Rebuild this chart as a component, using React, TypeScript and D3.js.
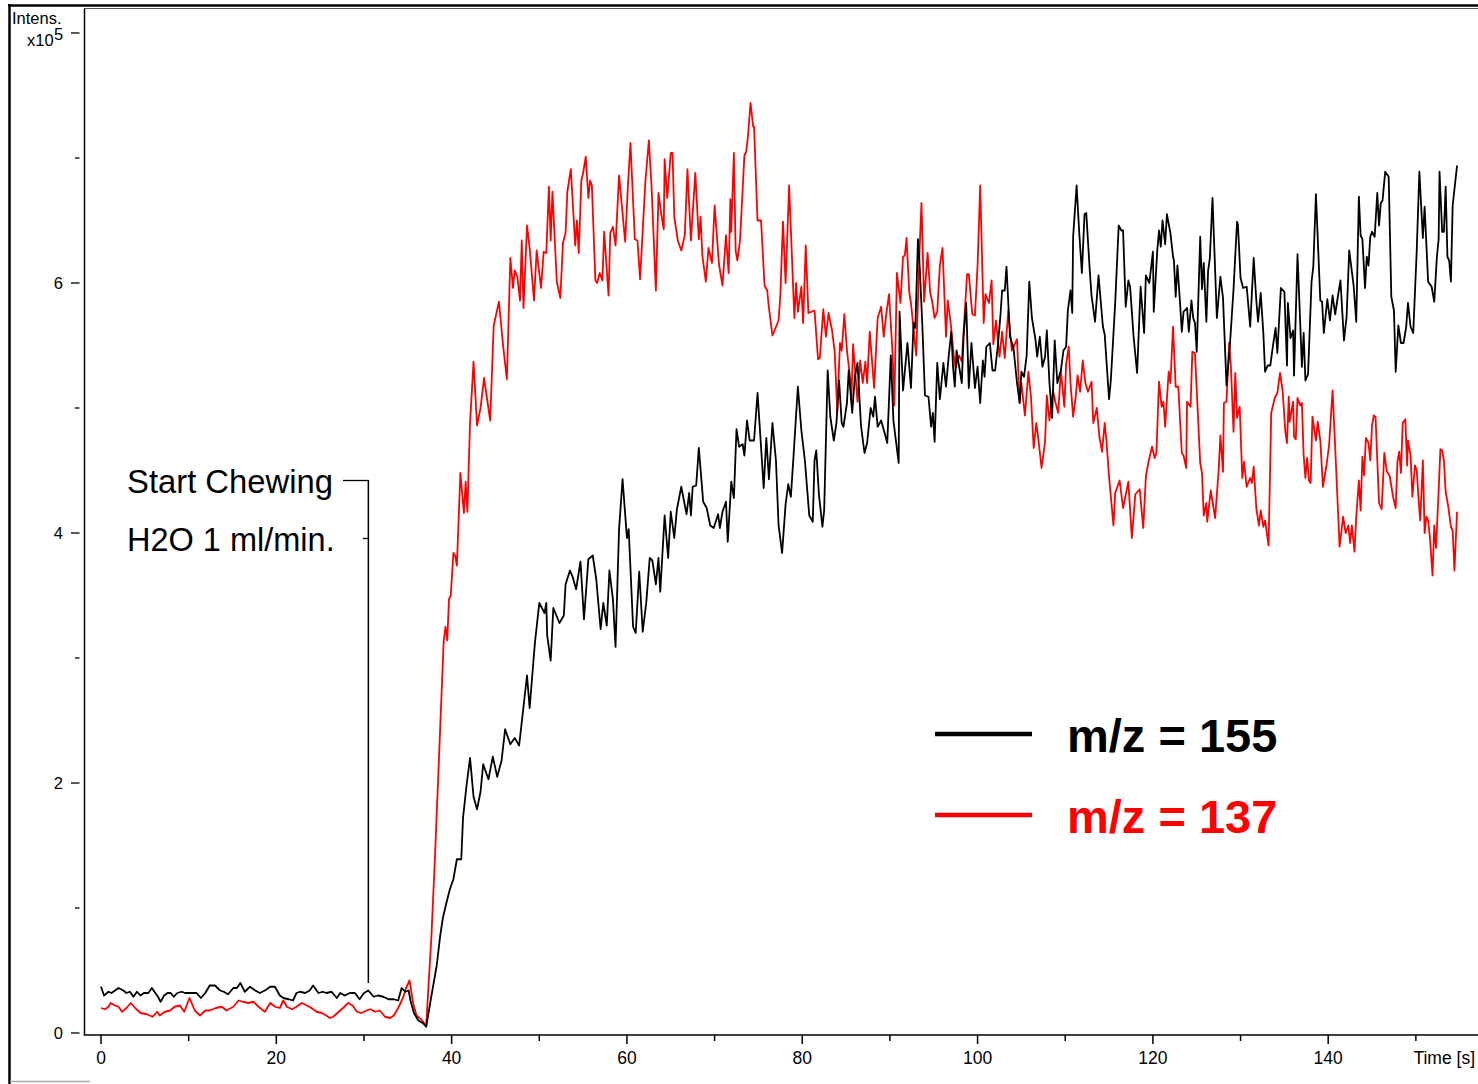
import React from 'react';
import { scaleLinear, line, range } from 'd3';

// m/z = 155 trace, [time s, intensity x10^5]
const mz155: [number, number][] = [
  [0,0.37],[0.35,0.3],[0.85,0.33],[1.2,0.32],[1.6,0.34],[2,0.36],[2.55,0.34],[2.9,0.32],[3.3,0.33],[3.7,0.29],[4.1,0.33],[4.5,0.3],[4.9,0.32],[5.4,0.32],[5.8,0.36],[6.2,0.32],[6.5,0.29],[6.8,0.25],[7.2,0.3],[7.6,0.32],[7.95,0.32],[8.3,0.29],[8.7,0.32],[9.2,0.33],[9.6,0.32],[10.2,0.32],[10.9,0.32],[11.4,0.28],[11.9,0.32],[12.4,0.38],[13,0.38],[13.6,0.34],[14,0.33],[14.5,0.31],[15.1,0.36],[15.5,0.36],[15.9,0.4],[16.4,0.33],[17,0.37],[17.6,0.34],[18.1,0.32],[18.7,0.34],[19.3,0.37],[19.85,0.37],[20.4,0.3],[20.8,0.28],[21.4,0.27],[21.9,0.26],[22.3,0.32],[22.7,0.33],[23.3,0.32],[23.8,0.34],[24.2,0.38],[24.8,0.32],[25.3,0.33],[25.7,0.32],[26.3,0.33],[26.9,0.28],[27.3,0.32],[27.8,0.3],[28.4,0.32],[28.97,0.32],[29.5,0.27],[30,0.32],[30.5,0.34],[31.1,0.29],[31.6,0.3],[32.2,0.29],[32.8,0.27],[33.4,0.27],[33.9,0.26],[34.3,0.36],[34.7,0.33],[35.1,0.34],[35.3,0.26],[35.7,0.16],[36.2,0.1],[36.7,0.08],[37.1,0.05],
  [37.7,0.3],[38.3,0.54],[38.7,0.78],[39,0.92],[39.4,1.04],[39.8,1.15],[40.2,1.23],[40.6,1.39],[41.1,1.39],[41.3,1.72],[41.7,1.98],[42.1,2.2],[42.5,1.89],[42.9,1.79],[43.3,1.93],[43.6,2.15],[44.2,2.03],[44.7,2.21],[45.2,2.05],[45.7,2.18],[46.1,2.43],[46.7,2.31],[47.2,2.36],[47.7,2.3],[48.6,2.86],[48.9,2.6],[49.5,3.12],[50,3.44],[50.6,3.36],[50.8,3.44],[50.9,3.18],[51.3,2.98],[51.6,3.4],[52.3,3.28],[52.8,3.34],[53,3.59],[53.5,3.7],[53.8,3.65],[54.2,3.55],[54.7,3.77],[55.1,3.31],[55.6,3.79],[56.1,3.82],[56.5,3.63],[57,3.23],[57.3,3.44],[57.7,3.26],[58,3.7],[58.4,3.47],[58.7,3.09],[59.1,4.03],[59.5,4.43],[60,3.96],[60.2,4.03],[60.7,3.25],[61,3.2],[61.4,3.69],[61.8,3.21],[62.2,3.44],[62.6,3.8],[62.9,3.78],[63.3,3.59],[63.6,3.8],[63.8,3.53],[64.3,4.14],[64.7,3.8],[65,4.17],[65.4,3.96],[65.7,4.19],[66.2,4.37],[66.8,4.15],[67.1,4.32],[67.3,4.14],[67.5,4.37],[67.9,4.38],[68.2,4.68],[68.7,4.25],[69.1,4.2],[69.5,4.06],[69.9,4.04],[70.4,4.15],[70.6,4.04],[70.9,4.17],[71.3,4.25],[71.5,3.93],[71.9,4.41],[72.2,4.28],[72.5,4.83],[72.8,4.69],[73.2,4.71],[73.4,4.62],[73.7,4.9],[74,4.74],[74.5,4.74],[74.9,5.12],[75.6,4.36],[75.9,4.76],[76.2,4.43],[76.6,4.88],[77,4.58],[77.3,4.06],[77.7,3.84],[78.1,4.23],[78.4,4.39],[78.7,4.29],[79,4.61],[79.5,5.17],[79.9,4.82],[80.3,4.58],[80.8,4.14],[81.2,4.09],[81.4,4.58],[81.6,4.66],[81.9,4.31],[82.3,4.05],[82.5,4.18],[82.9,5.3],[83.2,4.93],[83.6,4.74],[83.9,4.88],[84.2,5.22],[84.5,4.88],[84.7,4.85],[85.1,5.04],[85.3,5.3],[85.7,4.96],[86,5.25],[86.3,5.36],[86.7,4.86],[87.1,4.64],[87.4,4.72],[87.8,5.0],[88.1,4.93],[88.3,5.09],[88.6,4.85],[89,4.9],[89.4,4.8],[89.7,4.72],[90.1,5.42],[90.4,4.9],[90.7,4.73],[91,4.56],[91.1,5.77],[91.5,5.14],[92,5.52],[92.4,5.16],[92.7,5.68],[92.9,5.64],[93.2,6.35],[93.4,6.13],[93.7,5.66],[94,5.1],[94.4,5.09],[94.7,4.85],[94.9,4.96],[95.1,4.73],[95.4,5.36],[95.7,5.07],[96.1,5.36],[96.4,5.17],[96.7,5.41],[97,5.61],[97.2,5.33],[97.4,5.17],[97.6,5.46],[97.9,5.33],[98.2,5.2],[98.4,5.57],[98.7,5.84],[99,5.16],[99.3,5.52],[99.7,5.16],[100,5.33],[100.3,5.04],[100.6,5.38],[100.8,5.25],[101,5.49],[101.4,5.52],[101.7,5.3],[102,5.3],[102.3,5.49],[102.6,5.73],[102.8,5.94],[103.1,5.94],[103.3,6.13],[103.7,5.57],[104.1,5.48],[104.5,5.2],[104.8,5.04],[105,5.29],[105.3,5.25],[105.6,5.42],[105.9,6.01],[106.2,5.72],[106.6,5.55],[106.8,5.41],[107.1,5.57],[107.4,5.33],[107.7,5.41],[107.9,5.62],[108.2,5.2],[108.5,4.92],[108.8,5.54],[109.1,5.2],[109.5,5.3],[109.8,5.46],[110.1,5.49],[110.3,5.78],[110.6,5.94],[110.8,5.76],[110.9,6.37],[111.3,6.78],[111.6,6.4],[111.9,6.08],[112.2,6.55],[112.4,6.56],[112.8,6.1],[113,5.9],[113.4,5.69],[113.8,6.06],[114.3,5.65],[114.5,5.59],[115,5.07],[115.2,5.22],[115.7,5.84],[116.1,6.46],[116.4,6.42],[116.6,6.42],[116.9,5.81],[117.2,6.02],[117.4,5.97],[117.8,5.57],[118.2,5.28],[118.6,5.97],[119,5.6],[119.2,6.06],[119.6,6.0],[120,6.25],[120.1,5.77],[120.5,6.26],[120.7,6.42],[120.9,6.29],[121.1,6.5],[121.4,6.31],[121.6,6.55],[122,6.4],[122.3,6.21],[122.4,6.18],[122.6,5.89],[122.8,6.14],[123.1,5.84],[123.3,5.61],[123.5,5.77],[123.9,5.8],[124.1,5.61],[124.4,5.86],[124.6,5.72],[124.8,5.68],[125,5.45],[125.4,6.37],[125.6,5.95],[125.8,6.16],[126.1,5.69],[126.3,6.1],[126.5,6.2],[126.8,6.68],[127.3,5.72],[127.7,6.05],[128,5.88],[128.4,5.18],[128.8,5.52],[129.2,5.95],[129.6,6.49],[129.7,6.47],[130,6.04],[130.3,5.96],[130.7,5.97],[131.1,5.65],[131.5,6.2],[131.8,5.86],[132,5.69],[132.3,5.92],[132.6,5.6],[132.8,5.29],[133.1,5.34],[133.4,5.34],[133.7,5.5],[134,5.64],[134.2,5.44],[134.6,5.96],[135,5.93],[135.3,5.34],[135.4,5.84],[135.7,5.56],[136,5.62],[136.1,5.26],[136.5,6.23],[137,5.33],[137.2,5.6],[137.4,5.22],[137.7,5.27],[138.1,6.01],[138.3,6.13],[138.6,6.71],[139.1,5.86],[139.3,5.85],[139.5,5.6],[139.9,5.87],[140.2,5.7],[140.5,5.9],[140.8,5.75],[141.1,5.89],[141.4,6.02],[141.8,5.54],[142.1,5.73],[142.4,6.26],[142.9,5.98],[143.2,5.69],[143.5,6.69],[143.7,6.38],[143.9,6.35],[144.2,5.96],[144.4,6.21],[144.6,6.14],[144.8,6.37],[145,6.41],[145.3,6.37],[145.6,6.72],[145.8,6.46],[146,6.64],[146.2,6.66],[146.5,6.89],[146.9,6.85],[147.2,5.89],[147.5,5.78],[147.7,5.29],[148,5.66],[148.3,5.52],[148.6,5.52],[148.9,5.65],[149.1,5.84],[149.4,5.65],[149.7,5.6],[150.1,6.26],[150.4,6.89],[150.8,6.36],[151,6.61],[151.4,6.01],[151.8,5.97],[152.1,5.85],[152.4,6.21],[152.6,6.35],[152.7,6.89],[153,6.41],[153.2,6.41],[153.4,6.77],[153.6,6.21],[153.8,6.18],[154,6.01],[154.2,6.62],[154.7,6.94],
];

// m/z = 137 trace, [time s, intensity x10^5]
const mz137: [number, number][] = [
  [0,0.2],[0.45,0.19],[0.85,0.21],[1.1,0.24],[1.6,0.22],[2,0.21],[2.4,0.17],[2.9,0.2],[3.4,0.24],[3.9,0.2],[4.5,0.16],[5.2,0.15],[5.9,0.13],[6.4,0.17],[6.7,0.14],[7.3,0.17],[7.9,0.18],[8.4,0.21],[9,0.22],[9.5,0.17],[10.1,0.28],[10.7,0.18],[11.3,0.14],[11.9,0.18],[12.4,0.18],[13.1,0.2],[13.8,0.21],[14.3,0.18],[15.1,0.21],[15.7,0.26],[16.2,0.25],[16.8,0.24],[17.4,0.25],[17.96,0.21],[18.7,0.17],[19.3,0.24],[19.85,0.21],[20.4,0.2],[20.8,0.26],[21.2,0.21],[21.8,0.19],[22.3,0.21],[22.9,0.24],[23.5,0.22],[24,0.2],[24.6,0.17],[25.2,0.16],[25.7,0.14],[26.1,0.12],[26.5,0.13],[26.97,0.16],[27.6,0.2],[28.2,0.24],[28.7,0.22],[29.2,0.17],[29.7,0.16],[30.3,0.18],[30.7,0.19],[31.3,0.17],[31.8,0.18],[32.4,0.13],[33,0.12],[33.4,0.14],[33.9,0.2],[34.5,0.29],[34.8,0.36],[35.2,0.42],[35.6,0.24],[36,0.14],[36.5,0.11],[37.1,0.06],
  [37.7,0.78],[38.1,1.41],[38.5,2.1],[38.9,2.8],[39.1,3.14],[39.3,3.25],[39.5,3.14],[39.7,3.47],[39.9,3.5],[40.2,3.84],[40.4,3.82],[40.6,3.74],[41,4.48],[41.4,4.16],[41.6,4.41],[41.8,4.17],[42.1,4.88],[42.5,5.37],[42.9,4.86],[43.3,5.0],[43.7,5.24],[44.4,4.9],[44.8,5.66],[45.4,5.85],[45.9,5.48],[46.3,5.23],[46.7,6.2],[47,5.96],[47.2,6.1],[47.5,6.05],[47.8,5.86],[48,6.34],[48.2,5.8],[48.6,6.46],[48.9,6.28],[49.4,5.86],[49.7,6.26],[50.2,5.96],[50.5,6.25],[50.8,6.24],[51.1,6.77],[51.3,6.34],[51.5,6.73],[52,6.01],[52.4,5.88],[52.7,6.32],[53,6.4],[53.2,6.73],[53.6,6.91],[54.1,6.3],[54.3,6.5],[54.5,6.24],[54.8,6.82],[55,6.88],[55.3,7.01],[55.6,6.68],[55.8,6.82],[56,6.78],[56.4,6.02],[56.6,6.0],[56.9,6.08],[57.2,6.02],[57.4,6.41],[57.9,5.9],[58.1,6.4],[58.4,6.45],[58.7,6.3],[59.1,6.86],[59.8,6.33],[60.1,6.76],[60.4,7.12],[60.9,6.35],[61.2,6.34],[61.5,6.03],[62.1,6.81],[62.5,7.14],[62.8,6.78],[63.3,5.94],[63.6,6.72],[63.9,6.56],[64.2,6.43],[64.3,6.99],[64.6,6.68],[65,7.04],[65.2,7.04],[65.4,6.53],[65.8,6.34],[66.2,6.26],[66.6,6.38],[66.9,6.91],[67.3,6.34],[67.8,6.88],[68.2,6.35],[68.4,6.53],[68.6,6.22],[69,6.01],[69.3,6.28],[69.7,6.16],[70,6.62],[70.5,6.15],[70.9,5.98],[71.3,6.38],[71.6,6.08],[71.8,6.67],[71.9,6.41],[72.2,7.04],[72.4,6.26],[72.6,6.18],[72.9,6.34],[73.4,7.02],[73.6,7.05],[73.8,7.17],[74.1,7.44],[74.4,7.25],[74.5,7.25],[74.9,6.5],[75.3,6.5],[75.7,5.98],[76,5.94],[76.2,5.8],[76.6,5.58],[77.3,5.7],[77.5,5.9],[77.8,6.49],[78.1,6.0],[78.5,6.78],[79.1,5.72],[79.3,6.0],[79.5,5.77],[79.9,5.97],[80.1,5.68],[80.4,6.3],[80.7,5.76],[81.4,5.78],[81.8,5.39],[82,5.4],[82.4,5.79],[82.7,5.57],[83,5.76],[83.4,5.62],[83.7,5.45],[84,4.97],[84.3,5.52],[84.5,5.46],[84.8,5.75],[85.1,5.46],[85.5,5.22],[85.6,5.05],[85.8,5.51],[86.3,5.05],[86.6,5.38],[86.9,5.2],[87.2,5.37],[87.4,5.2],[87.7,5.61],[88.2,5.16],[88.6,5.72],[89,5.81],[89.3,5.57],[89.6,5.76],[89.9,5.91],[90.3,5.44],[90.5,5.02],[90.8,6.08],[91.2,5.84],[91.5,6.21],[91.7,6.22],[91.9,6.36],[92.2,5.93],[92.4,5.84],[92.7,5.63],[93,5.42],[93.4,6.3],[93.6,6.64],[93.9,5.85],[94.3,6.24],[94.6,5.92],[94.8,5.86],[95.1,5.72],[95.4,5.77],[95.7,6.14],[96,6.28],[96.4,5.57],[96.6,5.86],[96.9,5.7],[97.3,5.41],[97.5,5.32],[97.9,5.42],[98.2,5.37],[98.4,5.6],[98.8,6.07],[99,6.07],[99.4,5.75],[99.7,5.74],[100,6.14],[100.3,6.78],[100.7,5.68],[100.9,5.91],[101.3,5.84],[101.6,6.02],[101.8,5.51],[102.1,5.7],[102.5,5.41],[102.8,5.61],[103.1,5.4],[103.5,5.78],[103.9,5.46],[104.5,5.55],[104.8,5.04],[105,5.2],[105.4,4.94],[105.8,5.29],[106.1,5.08],[106.4,4.68],[106.7,4.88],[106.9,4.77],[107.3,4.52],[107.7,4.73],[107.9,5.1],[108.2,4.9],[108.6,5.14],[108.9,5.04],[109.2,4.96],[109.5,5.3],[109.9,5.01],[110.1,5.35],[110.4,5.49],[110.6,5.2],[110.9,4.93],[111.2,5.09],[111.4,5.26],[111.7,5.13],[112,5.38],[112.3,5.2],[112.6,5.13],[113,5.21],[113.2,4.88],[113.6,5.0],[113.9,4.77],[114.2,4.65],[114.5,4.88],[114.7,4.74],[115,4.45],[115.5,4.06],[115.7,4.32],[116.2,4.42],[116.6,4.2],[117.2,4.41],[117.6,3.96],[118,4.31],[118.5,4.35],[118.9,4.04],[119.2,4.45],[119.5,4.57],[119.9,4.69],[120.2,4.6],[120.4,4.64],[120.7,5.21],[121,5.01],[121.2,5.05],[121.4,4.85],[121.8,5.29],[122,5.2],[122.3,5.65],[122.6,5.17],[122.9,5.17],[123.3,4.64],[123.5,4.62],[123.8,4.52],[123.9,5.05],[124.3,5.01],[124.5,5.45],[124.8,5.44],[125.4,4.56],[125.6,4.48],[125.8,4.14],[126.1,4.24],[126.2,4.09],[126.6,4.34],[127.1,4.12],[127.5,4.5],[127.7,4.78],[128,4.49],[128.1,5.04],[128.4,5.05],[128.7,5.52],[128.9,5.33],[129.2,4.81],[129.4,5.28],[129.6,4.92],[129.9,5.01],[130.2,4.44],[130.4,4.57],[130.7,4.37],[131.1,4.44],[131.3,4.4],[131.5,4.53],[131.8,4.2],[132.1,4.06],[132.3,4.18],[132.6,4.05],[132.8,4.1],[133.2,3.9],[133.5,4.96],[133.9,5.08],[134.2,5.12],[134.5,5.28],[134.8,5.14],[135.1,4.82],[135.3,4.72],[135.5,5.09],[135.6,4.89],[136,5.05],[136.1,4.77],[136.3,4.75],[136.5,5.08],[136.8,5.02],[137,5.04],[137.2,4.62],[137.4,4.44],[137.6,4.6],[137.8,4.42],[138,4.4],[138.2,4.93],[138.6,4.74],[138.8,4.89],[139.1,4.74],[139.4,4.37],[139.8,4.54],[140.1,4.7],[140.5,5.14],[140.8,4.68],[141.3,3.89],[141.7,4.13],[142,4.0],[142.3,4.06],[142.5,3.92],[142.7,4.06],[143,3.85],[143.2,4.13],[143.5,4.42],[143.7,4.18],[143.9,4.61],[144.1,4.46],[144.3,4.76],[144.6,4.72],[144.8,4.58],[145,4.86],[145.2,4.94],[145.4,4.93],[145.8,4.24],[146.1,4.19],[146.4,4.64],[146.7,4.49],[147,4.46],[147.4,4.29],[147.7,4.2],[147.9,4.57],[148.1,4.65],[148.3,4.48],[148.5,4.88],[148.8,4.91],[149,4.54],[149.1,4.74],[149.4,4.62],[149.6,4.29],[149.9,4.54],[150.1,4.5],[150.3,4.28],[150.5,4.1],[150.8,4.58],[151,4.0],[151.2,4.13],[151.4,4.1],[151.6,3.97],[151.9,3.66],[152.1,4.06],[152.3,3.88],[152.6,4.34],[152.8,4.67],[153,4.66],[153.2,4.58],[153.4,4.33],[153.7,4.21],[154,4.05],[154.2,4.02],[154.4,3.7],[154.7,4.17],
];

const xTickLabels = [0, 20, 40, 60, 80, 100, 120, 140];
const yTickLabels = [0, 2, 4, 6];
const chewStart = 30.5; // s, marker for "Start Chewing"
const legendItems = [
  { label: 'm/z = 155', color: '#000000' },
  { label: 'm/z = 137', color: '#ff0000' },
];

const font = '"Liberation Sans", Arial, sans-serif';

const App = () => {
  const width = 1478;
  const height = 1084;

  // axes placement
  const plotLeft = 84.5;
  const plotTop = 8.5;

  const xScale = scaleLinear().domain([0, 140]).range([101, 1328.2]);
  const yScale = scaleLinear().domain([0, 8]).range([1033, 33]);
  const axisY = yScale(-0.016);

  const path = line<[number, number]>()
    .x(d => xScale(d[0]))
    .y(d => yScale(d[1]));

  const xTicks = range(0, 151, 10);
  const yTicks = range(0, 9, 1);

  return (
    <svg width={width} height={height} style={{ position: 'absolute', left: 0, top: 0, display: 'block' }}
      fontFamily={font}>
      <rect x={0} y={0} width={width} height={height} fill="#ffffff" />

      {/* outer frame */}
      <line x1={9.5} y1={4} x2={9.5} y2={height} stroke="#000" strokeWidth={2.5} />
      <line x1={8} y1={5.5} x2={width} y2={5.5} stroke="#000" strokeWidth={2.5} />
      <line x1={10} y1={1081.5} x2={90} y2={1081.5} stroke="#aaa" strokeWidth={1.5} />

      {/* plot frame */}
      <line x1={plotLeft} y1={plotTop} x2={width} y2={plotTop} stroke="#555" strokeWidth={1} />
      <line x1={plotLeft} y1={plotTop} x2={plotLeft} y2={axisY} stroke="#000" strokeWidth={1.5} />
      <line x1={plotLeft - 0.75} y1={axisY} x2={width} y2={axisY} stroke="#000" strokeWidth={1.5} />

      {/* x axis */}
      {xTicks.map(t => (
        <line key={'xt' + t} x1={xScale(t)} x2={xScale(t)} y1={axisY} y2={axisY + (t % 20 === 0 ? 9 : 6)}
          stroke="#000" strokeWidth={1.5} />
      ))}
      {xTickLabels.map(t => (
        <text key={'xl' + t} x={xScale(t)} y={1064} textAnchor="middle" fontSize={17.5} fill="#000">{t}</text>
      ))}
      <text x={1475} y={1064} textAnchor="end" fontSize={17.5} fill="#000">Time [s]</text>

      {/* y axis */}
      {yTicks.map(v => (
        <line key={'yt' + v} x1={v % 2 === 0 ? 71 : 75} x2={79.5} y1={yScale(v)} y2={yScale(v)}
          stroke="#000" strokeWidth={1.3} />
      ))}
      {yTickLabels.map(v => (
        <text key={'yl' + v} x={63} y={yScale(v) + 6} textAnchor="end" fontSize={16.5} fill="#000">{v}</text>
      ))}
      <text x={12} y={24} fontSize={16.5} fill="#000">Intens.</text>
      <text x={27} y={46} fontSize={16.5} fill="#000">x10</text>
      <text x={54} y={40} fontSize={16.5} fill="#000">5</text>

      {/* traces */}
      <path d={path(mz137) || ''} fill="none" stroke="#ff0000" strokeWidth={1.8} strokeLinejoin="round" />
      <path d={path(mz155) || ''} fill="none" stroke="#000000" strokeWidth={1.8} strokeLinejoin="round" />

      {/* annotation */}
      <text x={127} y={493} fontSize={32.8} fill="#000">Start Chewing</text>
      <text x={127} y={551} fontSize={32.5} fill="#000">H2O 1 ml/min.</text>
      <line x1={343} y1={480.5} x2={xScale(chewStart) + 0.5} y2={480.5} stroke="#000" strokeWidth={1.3} />
      <line x1={xScale(chewStart)} y1={480} x2={xScale(chewStart)} y2={yScale(0.4)} stroke="#000" strokeWidth={1.5} />
      <line x1={363} y1={538.5} x2={xScale(chewStart)} y2={538.5} stroke="#000" strokeWidth={1.3} />

      {/* legend */}
      {legendItems.map((d, i) => (
        <g key={d.label} transform={`translate(0, ${i * 81})`}>
          <line x1={935} x2={1032} y1={734} y2={734} stroke={d.color} strokeWidth={4.5} />
          <text x={1067} y={752} fontSize={47} fontWeight="bold" fill={d.color}>{d.label}</text>
        </g>
      ))}
    </svg>
  );
};

export default App;
